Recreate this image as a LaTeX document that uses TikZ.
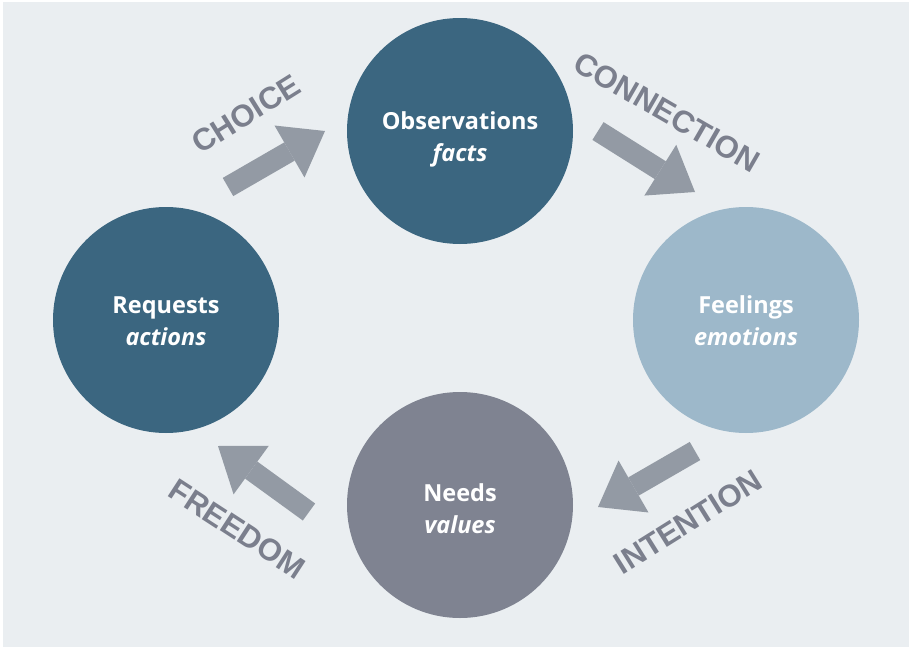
\documentclass[tikz,border=0pt]{standalone}
\usepackage{fontspec}
\setmainfont{Open Sans}
\newfontfamily\labelfont{Liberation Sans}
\usetikzlibrary{arrows.meta}
\definecolor{bgpanel}{HTML}{EAEEF1}
\definecolor{deepteal}{HTML}{3B6680}
\definecolor{paleblue}{HTML}{9DB8CA}
\definecolor{slategrey}{HTML}{7F8391}
\definecolor{arrowgrey}{HTML}{939AA4}
\definecolor{labelgrey}{HTML}{7B7F8D}
\tikzset{
  stage/.style={circle, minimum size=226pt, inner sep=0pt, draw=none},
  stagetext/.style={text=white, align=center, font=\bfseries\fontsize{23.5}{32}\selectfont},
  flowlabel/.style={text=labelgrey, font=\labelfont\bfseries\fontsize{31}{31}\selectfont, inner sep=0pt},
  blockarrow/.style={draw=arrowgrey, line width=21pt,
    -{Triangle[width=60pt, length=41pt, line width=0pt, fill=arrowgrey]}}
}
\begin{document}
\begin{tikzpicture}[x=1pt, y=-1pt]
  \useasboundingbox (0,0) rectangle (911,648);
  \fill[bgpanel] (3,2) rectangle (909,647);

  % the four stages of the cycle
  \node[stage, fill=deepteal]  (obs) at (460,131) {};
  \node[stage, fill=paleblue]  (feel) at (746,320) {};
  \node[stage, fill=slategrey] (need) at (460,505) {};
  \node[stage, fill=deepteal]  (req) at (166,320) {};

  \node[stagetext] (obstext)  at (460,139) {Observations\\\itshape facts};
  \node[stagetext] (feeltext) at (746,321) {Feelings\\\itshape emotions};
  \node[stagetext] (needtext) at (460,509) {Needs\\\itshape values};
  \node[stagetext] (reqtext)  at (166,321) {Requests\\\itshape actions};

  % block arrows between the stages
  \coordinate (choiceTail) at (228,187);  \coordinate (choiceTip) at (325,131);
  \coordinate (connTail) at (598,131);    \coordinate (connTip) at (695,192);
  \coordinate (intTail) at (695,451);     \coordinate (intTip) at (598,507);
  \coordinate (freeTail) at (309,512);    \coordinate (freeTip) at (218,446);
  \draw[blockarrow] (choiceTail) -- (choiceTip);
  \draw[blockarrow] (connTail) -- (connTip);
  \draw[blockarrow] (intTail) -- (intTip);
  \draw[blockarrow] (freeTail) -- (freeTip);

  % labels along the arrows
  \node[flowlabel, rotate=32]  (choice)     at (246,114) {CHOICE};
  \node[flowlabel, rotate=-30] (connection) at (667,112) {CONNECTION};
  \node[flowlabel, rotate=32]  (intention)  at (688,522) {INTENTION};
  \node[flowlabel, rotate=-33] (freedom)    at (237,529) {FREEDOM};
\end{tikzpicture}
\end{document}
